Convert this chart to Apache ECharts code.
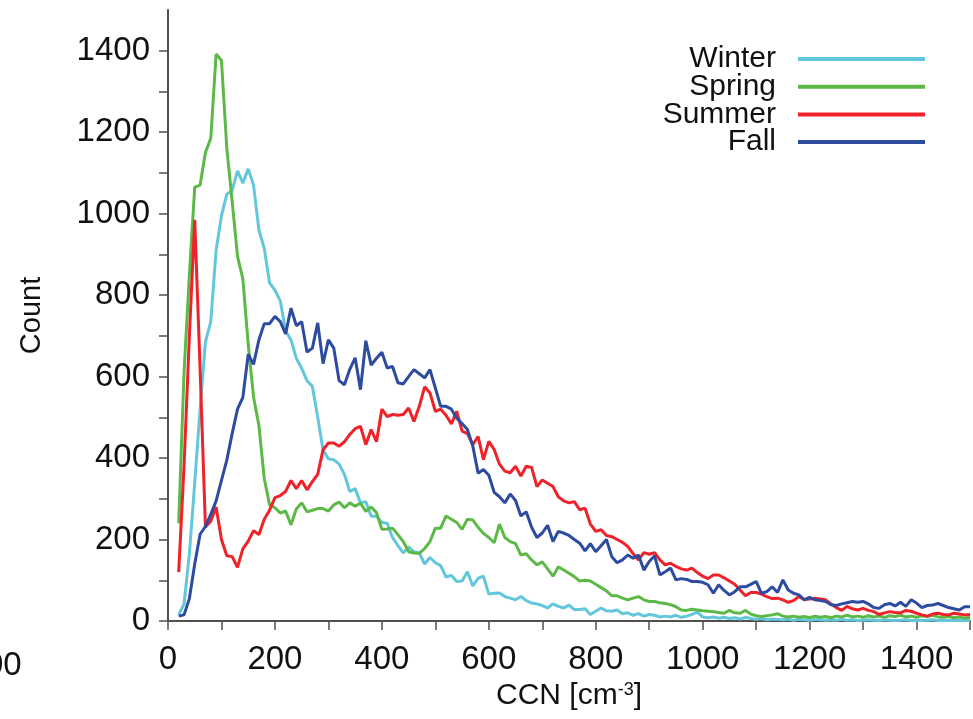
<!DOCTYPE html>
<html><head><meta charset="utf-8">
<script src="https://cdn.jsdelivr.net/npm/echarts@6/dist/echarts.min.js"></script>
<style>html,body{margin:0;padding:0;background:#fff}#c{width:973px;height:719px}</style>
</head><body><div id="c"></div>
<script>
const ccn = [
  20,30,40,50,60,70,80,90,100,110,
  120,130,140,150,160,170,180,190,200,210,
  220,230,240,250,260,270,280,290,300,310,
  320,330,340,350,360,370,380,390,400,410,
  420,430,440,450,460,470,480,490,500,510,
  520,530,540,550,560,570,580,590,600,610,
  620,630,640,650,660,670,680,690,700,710,
  720,730,740,750,760,770,780,790,800,810,
  820,830,840,850,860,870,880,890,900,910,
  920,930,940,950,960,970,980,990,1000,1010,
  1020,1030,1040,1050,1060,1070,1080,1090,1100,1110,
  1120,1130,1140,1150,1160,1170,1180,1190,1200,1210,
  1220,1230,1240,1250,1260,1270,1280,1290,1300,1310,
  1320,1330,1340,1350,1360,1370,1380,1390,1400,1410,
  1420,1430,1440,1450,1460,1470,1480,1490,1500
];
const winter = [
  15,42,165,340,520,685,735,910,995,1048,
  1057,1105,1075,1110,1070,960,915,830,812,786,
  712,690,645,620,590,576,500,420,398,396,
  385,360,318,325,290,293,257,257,242,240,
  205,185,167,182,170,167,140,156,143,136,
  108,112,97,98,121,86,105,110,66,68,
  69,60,56,52,60,50,44,42,38,32,
  42,36,32,39,28,28,30,16,24,32,
  25,24,27,18,20,14,18,12,16,14,
  10,12,10,14,9,12,16,22,10,8,
  10,7,9,6,8,5,9,6,4,6,
  3,5,4,3,5,2,4,3,2,4,
  3,2,3,2,4,2,3,1,2,3,
  2,1,3,2,1,2,3,1,2,1,
  2,3,1,2,1,2,1,2,1
];
const spring = [
  240,610,850,1065,1070,1150,1185,1392,1376,1160,
  1030,895,840,680,550,480,350,285,278,265,
  270,236,275,290,268,272,276,276,270,285,
  292,278,290,282,289,269,280,266,225,226,
  228,212,195,170,167,166,178,195,228,228,
  258,250,242,225,250,248,230,215,205,192,
  238,205,195,190,162,165,150,138,145,128,
  110,133,125,117,109,98,100,98,90,82,
  74,62,62,56,52,56,60,52,48,48,
  45,43,40,35,27,26,29,27,25,24,
  23,21,19,26,20,19,26,17,13,11,
  13,15,18,12,10,12,9,11,8,12,
  9,11,8,12,10,14,10,12,9,13,
  10,12,9,13,11,14,10,12,9,13,
  11,14,10,9,11,8,10,7,9
];
const summer = [
  120,380,700,985,620,231,245,280,200,160,
  158,132,177,196,222,212,250,272,303,308,
  318,345,325,345,322,342,360,420,437,437,
  429,440,458,472,478,433,470,440,520,502,
  507,505,507,523,490,527,575,560,515,520,
  505,484,515,466,460,433,453,396,441,421,
  385,368,364,380,356,380,377,330,346,338,
  330,305,295,290,293,273,277,238,220,224,
  210,207,200,193,183,165,150,168,164,168,
  150,138,142,134,128,125,130,119,110,104,
  113,113,106,98,90,76,62,70,70,66,
  60,55,56,52,46,50,60,53,54,56,
  54,52,42,33,26,36,30,27,31,26,
  23,16,20,23,21,20,26,24,19,15,
  12,17,19,16,15,19,17,15,16
];
const fall = [
  12,15,55,140,213,232,262,295,345,395,
  460,520,549,655,630,690,730,730,748,735,
  705,768,725,735,660,670,732,632,690,670,
  590,580,618,646,568,688,628,645,660,621,
  625,585,582,600,617,607,597,617,572,527,
  527,520,498,485,470,430,363,372,358,316,
  305,290,312,296,258,268,230,205,216,235,
  195,220,216,210,200,191,172,190,170,185,
  200,158,143,150,162,154,162,125,146,160,
  113,121,130,101,104,102,97,97,95,89,
  68,89,75,64,72,84,84,90,97,68,
  72,84,70,101,76,68,64,52,58,52,
  50,48,40,38,42,45,48,46,48,42,
  33,31,40,43,37,46,36,52,44,33,
  38,39,43,38,33,30,27,35,35
];
const seriesNames = ['Winter','Spring','Summer','Fall'];
const seriesValues = [winter, spring, summer, fall];
const seriesColors = ['#63c7dc','#5cb947','#ee2228','#2d4b9f'];
const xTickLabelStep = 200;
const xName = 'CCN [cm{sup|-3}]';
const yName = 'Count';

const FONT = '"Liberation Sans", Arial, sans-serif';
const chart = echarts.init(document.getElementById('c'), null, {renderer: 'canvas'});
const axisCommon = {
  type: 'value', min: 0, max: 1500, interval: 100,
  axisLine: {show: true, lineStyle: {color: '#505050', width: 2}},
  axisTick: {show: true, inside: false, length: 9, lineStyle: {color: '#505050', width: 1.5}},
  splitLine: {show: false},
  axisLabel: {
    formatter: v => (v % xTickLabelStep === 0 ? String(v) : ''),
    fontFamily: FONT, fontSize: 33, color: '#111',
    showMaxLabel: false
  }
};
chart.setOption({
  animation: false,
  backgroundColor: '#fff',
  grid: {left: 168, right: 0, top: 10, bottom: 98, containLabel: false},
  legend: {
    data: seriesNames,
    orient: 'vertical', right: 43, top: 39, align: 'right',
    icon: 'rect', itemWidth: 127, itemHeight: 4, itemGap: -2.3,
    textStyle: {fontFamily: FONT, fontSize: 30, lineHeight: 28, color: '#111', padding: [0, 17, 0, 0]}
  },
  xAxis: Object.assign({}, axisCommon, {
    axisLabel: Object.assign({}, axisCommon.axisLabel, {margin: 22, showMaxLabel: true}),
    name: xName, nameLocation: 'middle', nameGap: 56,
    nameTextStyle: {
      fontFamily: FONT, fontSize: 30, color: '#111',
      rich: {sup: {fontFamily: FONT, fontSize: 18, color: '#111', verticalAlign: 'top', lineHeight: 16}}
    }
  }),
  yAxis: Object.assign({}, axisCommon, {
    axisLabel: Object.assign({}, axisCommon.axisLabel, {margin: 18}),
    name: yName, nameLocation: 'middle', nameGap: 122, nameRotate: 90,
    nameTextStyle: {fontFamily: FONT, fontSize: 29, color: '#111'}
  }),
  graphic: [{
    type: 'text', left: -15, top: 649,
    style: {text: '00', fontFamily: FONT, fontSize: 33, fill: '#111'}
  }],
  series: seriesNames.map((n, i) => ({
    name: n, type: 'line', showSymbol: false, symbol: 'none',
    data: ccn.map((x, j) => [x, seriesValues[i][j]]),
    lineStyle: {width: 3, color: seriesColors[i]},
    itemStyle: {color: seriesColors[i]},
    z: 2 + i
  }))
});
</script></body></html>
